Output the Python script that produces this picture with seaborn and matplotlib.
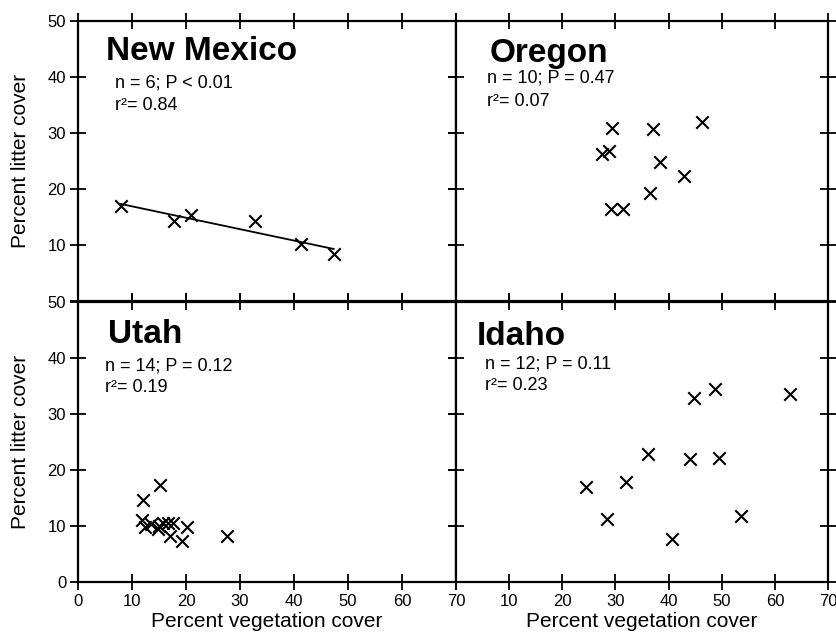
import numpy as np
import pandas as pd
import seaborn as sns
import matplotlib
matplotlib.use("Agg")
import matplotlib.pyplot as plt

# values (vegetation cover %, litter cover %)
nm_veg = [7.9, 17.8, 20.9, 32.8, 41.3, 47.4]
nm_lit = [17.0, 14.2, 15.4, 14.3, 10.1, 8.4]

or_veg = [29.3, 37.1, 46.3, 27.5, 28.7, 38.4, 42.8, 36.5, 29.1, 31.4]
or_lit = [30.9, 30.7, 31.9, 26.3, 26.7, 24.9, 22.4, 19.2, 16.4, 16.4]

ut_veg = [15.1, 12.0, 11.8, 12.4, 13.6, 14.9, 15.8, 16.7, 17.6, 17.0, 20.1, 19.2, 27.5, 15.0]
ut_lit = [17.4, 14.7, 11.1, 9.9, 10.3, 9.4, 10.6, 10.6, 10.6, 8.3, 9.8, 7.4, 8.3, 10.0]

id_veg = [24.5, 28.4, 31.9, 36.2, 40.6, 44.1, 44.7, 48.7, 49.4, 53.7, 62.8]
id_lit = [17.0, 11.2, 17.8, 22.8, 7.7, 21.9, 32.8, 34.4, 22.2, 11.7, 33.5]

states = ["New Mexico", "Oregon", "Utah", "Idaho"]
stats = [("n = 6; P < 0.01", "r²= 0.84"),
         ("n = 10; P = 0.47", "r²= 0.07"),
         ("n = 14; P = 0.12", "r²= 0.19"),
         ("n = 12; P = 0.11", "r²= 0.23")]
x_ticks = [0, 10, 20, 30, 40, 50, 60, 70]
y_ticks = [0, 10, 20, 30, 40, 50]

sns.set_style("ticks")
plt.rcParams["font.family"] = ["Liberation Sans", "DejaVu Sans"]
plt.rcParams["text.color"] = "black"
plt.rcParams["axes.labelcolor"] = "black"

fig = plt.figure(figsize=(8.36, 6.36), dpi=100)

# panel boxes in figure fractions: left, bottom, width, height
boxes = [(0.0933, 0.5267, 0.4522, 0.4403),
         (0.5455, 0.5267, 0.4450, 0.4403),
         (0.0933, 0.0849, 0.4522, 0.4403),
         (0.5455, 0.0849, 0.4450, 0.4403)]
data = [(nm_veg, nm_lit), (or_veg, or_lit), (ut_veg, ut_lit), (id_veg, id_lit)]
# text positions (axes fraction): title x, title y, stats x, stats y1, stats y2
txt_pos = [(0.074, 0.861, 0.098, 0.764, 0.682),
           (0.089, 0.854, 0.083, 0.779, 0.696),
           (0.079, 0.854, 0.071, 0.757, 0.679),
           (0.056, 0.846, 0.078, 0.764, 0.686)]

for i, (box, (vx, ly)) in enumerate(zip(boxes, data)):
    ax = fig.add_axes(box)
    df = pd.DataFrame({"veg": vx, "litter": ly})
    sns.scatterplot(data=df, x="veg", y="litter", marker="x", s=80,
                    color="black", linewidth=1.5, ax=ax, legend=False)
    if i == 0:
        sns.regplot(data=df, x="veg", y="litter", scatter=False, ci=None,
                    color="black", line_kws={"linewidth": 1.3}, ax=ax)

    ax.set_xlim(0, 70)
    ax.set_ylim(0, 50)
    ax.set_xticks(x_ticks)
    ax.set_yticks(y_ticks)
    ax.tick_params(direction="inout", length=11, width=1.3, top=True,
                   right=True, labelsize=12, pad=3, colors="black")
    for sp in ax.spines.values():
        sp.set_visible(True)
        sp.set_linewidth(1.6)
        sp.set_color("black")

    left_col = i in (0, 2)
    bottom_row = i in (2, 3)

    if bottom_row:
        labs = [str(t) for t in x_ticks]
        if not left_col:
            labs[0] = ""
        ax.set_xticklabels(labs)
        ax.set_xlabel("Percent vegetation cover", fontsize=15, labelpad=2)
    else:
        ax.set_xticklabels([])
        ax.set_xlabel("")

    if left_col:
        labs = [str(t) for t in y_ticks]
        if not bottom_row:
            labs[0] = ""
        ax.set_yticklabels(labs)
        ax.set_ylabel("Percent litter cover", fontsize=15, labelpad=13)
    else:
        ax.set_yticklabels([])
        ax.set_ylabel("")

    tx, ty, sx, sy1, sy2 = txt_pos[i]
    ax.text(tx, ty, states[i], transform=ax.transAxes, fontsize=24,
            fontweight="bold", va="baseline", ha="left")
    ax.text(sx, sy1, stats[i][0], transform=ax.transAxes, fontsize=13,
            va="baseline", ha="left")
    ax.text(sx, sy2, stats[i][1], transform=ax.transAxes, fontsize=13,
            va="baseline", ha="left")

fig.savefig("out.png", dpi=100)
